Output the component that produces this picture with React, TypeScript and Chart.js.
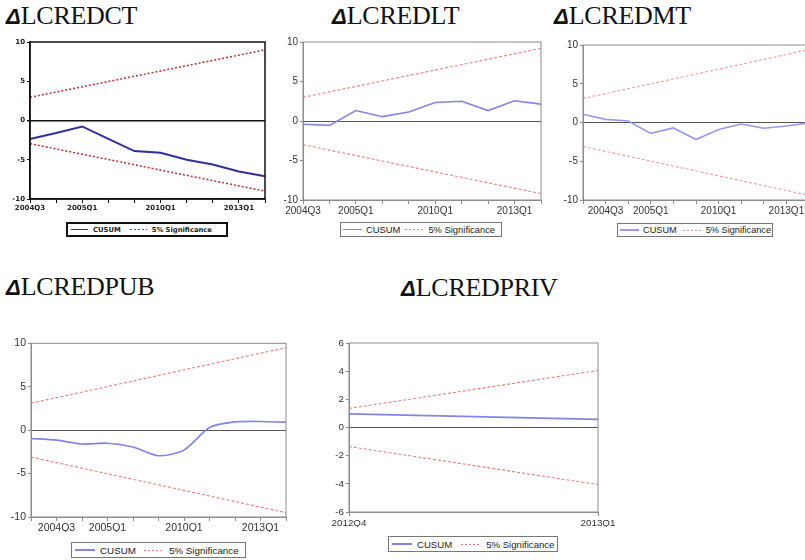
import React, { useEffect, useRef } from "react";
import { Chart, registerables } from "chart.js";

Chart.register(...registerables);

// ---- ΔLCREDCT ----
const ctLabels = ["2004Q3", "", "2005Q1", "", "", "2010Q1", "", "", "2013Q1", ""];
const ctCusum = [-2.35, -1.6, -0.76, -2.35, -3.9, -4.1, -5.0, -5.6, -6.5, -7.1];
const ctUpper = [2.95, null, null, null, null, null, null, null, null, 9.0];
const ctLower = [-2.95, null, null, null, null, null, null, null, null, -9.0];

// ---- ΔLCREDLT ----
const ltLabels = ["2004Q3", "", "2005Q1", "", "", "2010Q1", "", "", "2013Q1", ""];
const ltCusum = [-0.42, -0.55, 1.32, 0.55, 1.15, 2.35, 2.5, 1.32, 2.56, 2.14];
const ltUpper = [3.0, null, null, null, null, null, null, null, null, 9.2];
const ltLower = [-3.0, null, null, null, null, null, null, null, null, -9.2];

// ---- ΔLCREDMT ----
const mtLabels = ["", "2004Q3", "", "2005Q1", "", "", "2010Q1", "", "", "2013Q1", ""];
const mtCusum = [1.06, 0.4, 0.2, -1.4, -0.7, -2.2, -0.9, -0.2, -0.75, -0.45, -0.05];
const mtUpper = [3.1, null, null, null, null, null, null, null, null, null, 9.4];
const mtLower = [-3.1, null, null, null, null, null, null, null, null, null, -9.4];

// ---- ΔLCREDPUB ----
const pubLabels = ["", "2004Q3", "", "2005Q1", "", "", "2010Q1", "", "", "2013Q1", ""];
const pubCusum = [-0.96, -1.15, -1.6, -1.5, -1.95, -2.95, -2.3, 0.3, 0.95, 1.0, 0.92];
const pubUpper = [3.1, null, null, null, null, null, null, null, null, null, 9.5];
const pubLower = [-3.1, null, null, null, null, null, null, null, null, null, -9.5];

// ---- ΔLCREDPRIV ----
const privLabels = ["2012Q4", "2013Q1"];
const privCusum = [0.97, 0.58];
const privUpper = [1.35, 4.05];
const privLower = [-1.35, -4.05];

const SERIF = "'Liberation Serif', 'Times New Roman', serif";
const SANS = "'Liberation Sans', Arial, sans-serif";

type Box = { left: number; top: number; width: number; height: number };

type PanelSpec = {
  name: string;
  titleLeft: number;
  titleTop: number;
  canvas: Box;
  plot: { l: number; t: number; r: number; b: number };
  labels: string[];
  cusum: (number | null)[];
  upper: (number | null)[];
  lower: (number | null)[];
  yMin: number;
  yMax: number;
  yStep: number;
  cusumColor: string;
  cusumWidth: number;
  tension: number;
  bandColor: string;
  bandWidth: number;
  bandDash: number[];
  frameColor: string;
  frameWidth: number;
  zeroColor: string;
  zeroWidth: number;
  tickFamily: string;
  tickSize: number;
  tickWeight: string;
  tickColor: string;
  legend: Box & {
    border: string;
    fontFamily: string;
    fontSize: number;
    fontWeight: string;
    padLeft: number;
    sampleW: number;
    gap: number;
    midGap: number;
  };
};

const plainTicks = {
  tickFamily: SANS,
  tickWeight: "normal",
  tickColor: "#333",
};

const lightStyle = {
  cusumColor: "#8484e6",
  cusumWidth: 1.6,
  tension: 0,
  bandColor: "#ef7b7b",
  bandWidth: 1.1,
  bandDash: [3, 2],
  frameColor: "#8c8c8c",
  frameWidth: 1,
  zeroColor: "#555",
  zeroWidth: 1,
};

const panels: PanelSpec[] = [
  {
    name: "LCREDCT",
    titleLeft: 6,
    titleTop: 3,
    canvas: { left: 0, top: 34, width: 275, height: 181 },
    plot: { l: 30, t: 42, r: 265, b: 199 },
    labels: ctLabels,
    cusum: ctCusum,
    upper: ctUpper,
    lower: ctLower,
    yMin: -10,
    yMax: 10,
    yStep: 5,
    cusumColor: "#2f2f9e",
    cusumWidth: 2,
    tension: 0,
    bandColor: "#b83030",
    bandWidth: 1.5,
    bandDash: [2, 2],
    frameColor: "#111",
    frameWidth: 1.5,
    zeroColor: "#111",
    zeroWidth: 1.5,
    tickFamily: "'DejaVu Sans', sans-serif",
    tickSize: 7,
    tickWeight: "bold",
    tickColor: "#222",
    legend: {
      left: 66, top: 222, width: 162, height: 15,
      border: "2px solid #111",
      fontFamily: "'DejaVu Sans', sans-serif",
      fontSize: 6.8,
      fontWeight: "bold",
      padLeft: 3,
      sampleW: 17,
      gap: 5,
      midGap: 9,
    },
  },
  {
    name: "LCREDLT",
    titleLeft: 332,
    titleTop: 3,
    canvas: { left: 275, top: 34, width: 283, height: 182 },
    plot: { l: 303, t: 42, r: 541, b: 200 },
    labels: ltLabels,
    cusum: ltCusum,
    upper: ltUpper,
    lower: ltLower,
    yMin: -10,
    yMax: 10,
    yStep: 5,
    ...lightStyle,
    ...plainTicks,
    tickSize: 10,
    legend: {
      left: 340, top: 222, width: 162, height: 15,
      border: "1px solid #777",
      fontFamily: SANS,
      fontSize: 9.4,
      fontWeight: "normal",
      padLeft: 2,
      sampleW: 19,
      gap: 4,
      midGap: 5,
    },
  },
  {
    name: "LCREDMT",
    titleLeft: 554,
    titleTop: 3,
    canvas: { left: 558, top: 37, width: 262, height: 179 },
    plot: { l: 583, t: 45, r: 809, b: 200 },
    labels: mtLabels,
    cusum: mtCusum,
    upper: mtUpper,
    lower: mtLower,
    yMin: -10,
    yMax: 10,
    yStep: 5,
    ...lightStyle,
    cusumColor: "#9a9aec",
    bandColor: "#f29a9a",
    ...plainTicks,
    tickSize: 10,
    legend: {
      left: 617, top: 223, width: 156, height: 14,
      border: "1px solid #777",
      fontFamily: SANS,
      fontSize: 9.2,
      fontWeight: "normal",
      padLeft: 2,
      sampleW: 19,
      gap: 4,
      midGap: 6,
    },
  },
  {
    name: "LCREDPUB",
    titleLeft: 6,
    titleTop: 274,
    canvas: { left: 0, top: 335, width: 300, height: 197 },
    plot: { l: 31, t: 343, r: 286, b: 517 },
    labels: pubLabels,
    cusum: pubCusum,
    upper: pubUpper,
    lower: pubLower,
    yMin: -10,
    yMax: 10,
    yStep: 5,
    ...lightStyle,
    tension: 0.25,
    ...plainTicks,
    tickSize: 10.5,
    legend: {
      left: 71, top: 542, width: 175, height: 16,
      border: "1px solid #777",
      fontFamily: SANS,
      fontSize: 9.8,
      fontWeight: "normal",
      padLeft: 3,
      sampleW: 20,
      gap: 5,
      midGap: 8,
    },
  },
  {
    name: "LCREDPRIV",
    titleLeft: 401,
    titleTop: 275,
    canvas: { left: 320, top: 335, width: 300, height: 192 },
    plot: { l: 349, t: 343, r: 598, b: 512 },
    labels: privLabels,
    cusum: privCusum,
    upper: privUpper,
    lower: privLower,
    yMin: -6,
    yMax: 6,
    yStep: 2,
    ...lightStyle,
    ...plainTicks,
    tickSize: 9.8,
    legend: {
      left: 388, top: 536, width: 170, height: 16,
      border: "1px solid #777",
      fontFamily: SANS,
      fontSize: 9.6,
      fontWeight: "normal",
      padLeft: 3,
      sampleW: 20,
      gap: 5,
      midGap: 9,
    },
  },
];

// Draws the rectangle around the plotting area.
function framePlugin(color: string, width: number) {
  return {
    id: "frame",
    afterDatasetsDraw(chart: any) {
      const { ctx, chartArea } = chart;
      ctx.save();
      ctx.strokeStyle = color;
      ctx.lineWidth = width;
      ctx.strokeRect(
        chartArea.left,
        chartArea.top,
        chartArea.right - chartArea.left,
        chartArea.bottom - chartArea.top
      );
      ctx.restore();
    },
  };
}

function CusumChart({ spec }: { spec: PanelSpec }) {
  const ref = useRef<HTMLCanvasElement | null>(null);

  useEffect(() => {
    const canvas = ref.current;
    if (!canvas) return;
    const c = spec.canvas;
    const p = spec.plot;
    const yAxisW = p.l - c.left;
    const xAxisH = c.top + c.height - p.b;
    const padTop = p.t - c.top;
    const padRight = c.left + c.width - p.r;
    const font = { family: spec.tickFamily, size: spec.tickSize, weight: spec.tickWeight as any };

    const chart = new Chart(canvas, {
      type: "line",
      data: {
        labels: spec.labels,
        datasets: [
          {
            label: "CUSUM",
            data: spec.cusum,
            borderColor: spec.cusumColor,
            borderWidth: spec.cusumWidth,
            pointRadius: 0,
            tension: spec.tension,
            fill: false,
          },
          {
            label: "5% Significance",
            data: spec.upper,
            borderColor: spec.bandColor,
            borderWidth: spec.bandWidth,
            borderDash: spec.bandDash,
            pointRadius: 0,
            spanGaps: true,
            fill: false,
          },
          {
            label: "5% Significance",
            data: spec.lower,
            borderColor: spec.bandColor,
            borderWidth: spec.bandWidth,
            borderDash: spec.bandDash,
            pointRadius: 0,
            spanGaps: true,
            fill: false,
          },
        ],
      },
      options: {
        animation: false,
        responsive: false,
        maintainAspectRatio: false,
        devicePixelRatio: 1,
        events: [],
        layout: { padding: { top: padTop, right: padRight, left: 0, bottom: 0 } },
        plugins: { legend: { display: false }, tooltip: { enabled: false } },
        scales: {
          x: {
            type: "category",
            offset: false,
            grid: {
              drawOnChartArea: false,
              drawTicks: true,
              tickLength: 4,
              tickColor: spec.frameColor,
              color: spec.frameColor,
            },
            border: { color: spec.frameColor, width: spec.frameWidth },
            ticks: {
              autoSkip: false,
              maxRotation: 0,
              minRotation: 0,
              padding: 1,
              font,
              color: spec.tickColor,
            },
            afterFit: (s: any) => {
              s.height = xAxisH;
            },
          },
          y: {
            min: spec.yMin,
            max: spec.yMax,
            ticks: { stepSize: spec.yStep, padding: 2, font, color: spec.tickColor },
            grid: {
              drawOnChartArea: true,
              tickLength: 3,
              tickColor: spec.frameColor,
              color: (ctx: any) =>
                ctx.tick && ctx.tick.value === 0 ? spec.zeroColor : "rgba(0,0,0,0)",
              lineWidth: (ctx: any) =>
                ctx.tick && ctx.tick.value === 0 ? spec.zeroWidth : 1,
            },
            border: { color: spec.frameColor, width: spec.frameWidth },
            afterFit: (s: any) => {
              s.width = yAxisW;
            },
          },
        },
      },
      plugins: [framePlugin(spec.frameColor, spec.frameWidth)],
    });
    return () => chart.destroy();
  }, [spec]);

  const c = spec.canvas;
  return (
    <canvas
      ref={ref}
      width={c.width}
      height={c.height}
      style={{ position: "absolute", left: c.left, top: c.top, width: c.width, height: c.height }}
    />
  );
}

function Title({ spec }: { spec: PanelSpec }) {
  return (
    <div
      style={{
        position: "absolute",
        left: spec.titleLeft,
        top: spec.titleTop,
        whiteSpace: "nowrap",
        lineHeight: "25px",
        color: "#111",
      }}
    >
      <span
        style={{
          fontFamily: SANS,
          fontWeight: "bold",
          fontStyle: "italic",
          fontSize: 22,
        }}
      >
        Δ
      </span>
      <span style={{ fontFamily: SERIF, fontSize: 26, fontWeight: "normal", letterSpacing: -0.3 }}>
        {spec.name}
      </span>
    </div>
  );
}

function Legend({ spec }: { spec: PanelSpec }) {
  const l = spec.legend;
  const solid: React.CSSProperties = {
    display: "inline-block",
    width: l.sampleW,
    height: Math.max(1, spec.cusumWidth * 0.9),
    background: spec.cusumColor,
    marginRight: l.gap,
  };
  const dotted: React.CSSProperties = {
    display: "inline-block",
    width: l.sampleW,
    height: Math.max(1, spec.bandWidth * 0.9),
    background: `repeating-linear-gradient(to right, ${spec.bandColor} 0 2px, transparent 2px 4px)`,
    marginRight: l.gap,
    marginLeft: l.midGap,
  };
  return (
    <div
      style={{
        position: "absolute",
        left: l.left,
        top: l.top,
        width: l.width,
        height: l.height,
        boxSizing: "border-box",
        border: l.border,
        display: "flex",
        alignItems: "center",
        paddingLeft: l.padLeft,
        fontFamily: l.fontFamily,
        fontSize: l.fontSize,
        fontWeight: l.fontWeight as any,
        color: "#222",
        whiteSpace: "nowrap",
        background: "#fff",
      }}
    >
      <span style={solid} />
      <span>CUSUM</span>
      <span style={dotted} />
      <span>5% Significance</span>
    </div>
  );
}

export default function App() {
  return (
    <div
      style={{
        position: "fixed",
        left: 0,
        top: 0,
        width: 805,
        height: 560,
        overflow: "hidden",
        background: "#fff",
      }}
    >
      {panels.map((p) => (
        <React.Fragment key={p.name}>
          <Title spec={p} />
          <CusumChart spec={p} />
          <Legend spec={p} />
        </React.Fragment>
      ))}
    </div>
  );
}
